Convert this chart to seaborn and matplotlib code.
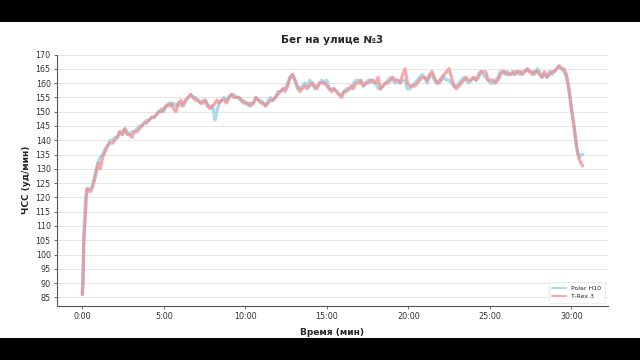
import matplotlib
matplotlib.use("Agg")
import matplotlib.pyplot as plt
import seaborn as sns
import pandas as pd
from matplotlib.ticker import FuncFormatter, MultipleLocator
from matplotlib.patches import Rectangle

minutes = [
    0.0, 0.05, 0.1, 0.18, 0.25, 0.3, 0.5, 0.6, 0.75, 0.9,
    1.0, 1.1, 1.25, 1.4, 1.55, 1.7, 1.85, 2.0, 2.15, 2.3,
    2.45, 2.6, 2.75, 2.9, 3.05, 3.2, 3.35, 3.5, 3.65, 3.8,
    3.95, 4.1, 4.25, 4.4, 4.55, 4.7, 4.85, 5.0, 5.15, 5.3,
    5.45, 5.6, 5.75, 5.9, 6.05, 6.2, 6.35, 6.5, 6.65, 6.8,
    6.95, 7.1, 7.25, 7.4, 7.55, 7.7, 7.85, 8.0, 8.15, 8.25,
    8.4, 8.55, 8.7, 8.85, 9.0, 9.15, 9.3, 9.45, 9.6, 9.75,
    9.9, 10.05, 10.2, 10.35, 10.5, 10.65, 10.8, 10.95, 11.1, 11.25,
    11.4, 11.55, 11.7, 11.85, 12.0, 12.15, 12.3, 12.45, 12.6, 12.75,
    12.9, 13.05, 13.2, 13.35, 13.5, 13.65, 13.8, 13.95, 14.1, 14.25,
    14.4, 14.55, 14.7, 14.85, 15.0, 15.15, 15.3, 15.45, 15.6, 15.75,
    15.9, 16.05, 16.2, 16.35, 16.5, 16.65, 16.8, 16.95, 17.1, 17.25,
    17.4, 17.55, 17.7, 17.85, 18.0, 18.15, 18.3, 18.45, 18.6, 18.75,
    18.9, 19.05, 19.2, 19.35, 19.5, 19.65, 19.8, 19.95, 20.1, 20.25,
    20.4, 20.55, 20.7, 20.85, 21.0, 21.15, 21.3, 21.45, 21.6, 21.75,
    21.9, 22.05, 22.2, 22.35, 22.5, 22.65, 22.8, 22.95, 23.1, 23.25,
    23.4, 23.55, 23.7, 23.85, 24.0, 24.15, 24.3, 24.45, 24.6, 24.75,
    24.9, 25.05, 25.2, 25.35, 25.5, 25.65, 25.8, 25.95, 26.1, 26.25,
    26.4, 26.55, 26.7, 26.85, 27.0, 27.15, 27.3, 27.45, 27.6, 27.75,
    27.9, 28.05, 28.2, 28.35, 28.5, 28.65, 28.8, 28.95, 29.1, 29.25,
    29.4, 29.55, 29.7, 29.85, 30.0, 30.15, 30.3, 30.4, 30.5, 30.6,
    30.7,
]

polar_h10 = [
    86, 95, 107, 118, 122, 123, 123, 124, 127, 131,
    133, 134, 135, 137, 138, 140, 140, 141, 141, 143,
    142, 144, 143, 142, 143, 143, 144, 145, 145, 146,
    147, 147, 148, 148, 149, 150, 151, 150, 152, 153,
    152, 153, 152, 153, 152, 153, 154, 155, 156, 155,
    155, 154, 153, 154, 154, 152, 152, 152, 147, 150,
    153, 154, 155, 154, 155, 156, 156, 155, 155, 154,
    154, 153, 152, 153, 153, 155, 154, 154, 153, 152,
    154, 155, 154, 155, 157, 157, 158, 158, 160, 162,
    163, 161, 158, 158, 159, 160, 159, 161, 160, 158,
    159, 160, 161, 160, 161, 158, 158, 158, 157, 156,
    156, 157, 158, 158, 158, 160, 161, 161, 160, 159,
    160, 161, 161, 160, 160, 158, 158, 159, 160, 161,
    162, 161, 160, 161, 160, 161, 161, 158, 158, 159,
    160, 161, 162, 163, 162, 160, 162, 163, 161, 160,
    161, 161, 162, 161, 161, 160, 159, 159, 160, 161,
    162, 161, 160, 161, 162, 161, 163, 164, 163, 162,
    161, 160, 160, 161, 162, 164, 164, 163, 164, 163,
    163, 164, 164, 163, 164, 164, 165, 164, 164, 163,
    165, 164, 162, 163, 162, 164, 163, 164, 165, 166,
    165, 164, 162, 158, 152, 145, 138, 136, 134, 135,
    135,
]

trex_3 = [
    86, 90, 106, 112, 120, 123, 122, 123, 126, 130,
    132, 130, 134, 136, 138, 139, 139, 140, 141, 143,
    142, 144, 142, 142, 141, 143, 143, 144, 145, 146,
    146, 147, 148, 148, 149, 150, 150, 151, 152, 152,
    153, 151, 150, 153, 154, 152, 154, 155, 156, 155,
    154, 154, 153, 153, 154, 152, 151, 152, 153, 154,
    153, 154, 154, 153, 155, 156, 155, 155, 155, 154,
    153, 153, 153, 152, 153, 155, 154, 153, 153, 152,
    153, 154, 154, 155, 156, 157, 158, 157, 159, 162,
    163, 161, 159, 157, 158, 159, 158, 159, 160, 159,
    158, 160, 160, 160, 159, 158, 157, 158, 157, 156,
    155, 157, 157, 158, 159, 158, 160, 160, 161, 159,
    160, 160, 161, 161, 160, 162, 158, 159, 160, 160,
    161, 162, 161, 161, 160, 163, 165, 160, 159, 159,
    159, 160, 161, 162, 162, 161, 163, 164, 162, 160,
    160, 162, 163, 164, 165, 162, 159, 158, 159, 160,
    161, 162, 161, 161, 162, 161, 162, 164, 164, 164,
    161, 161, 161, 160, 161, 163, 164, 164, 163, 163,
    164, 163, 164, 164, 163, 164, 165, 164, 163, 164,
    164, 163, 162, 164, 162, 163, 164, 164, 165, 166,
    165, 165, 163, 158, 151, 146, 139, 135, 133, 132,
    131,
]

series_names = ["Polar H10", "T-Rex 3"]
series_colors = ["#8ccbe8", "#ef8a8a"]

df = pd.concat([
    pd.DataFrame({"t": minutes, "hr": polar_h10, "device": series_names[0]}),
    pd.DataFrame({"t": minutes, "hr": trex_3, "device": series_names[1]}),
])

sns.set_style("ticks")
plt.rcParams['font.family'] = ['DejaVu Sans']

fig = plt.figure(figsize=(6.4, 3.6), dpi=100, facecolor="black")
fig.patches.append(Rectangle((0, 22 / 360), 1, (338 - 22) / 360, transform=fig.transFigure,
                             facecolor="white", edgecolor="none", zorder=-10))
ax = fig.add_axes([57 / 640, 54 / 360, (608 - 57) / 640, (306 - 54.5) / 360])
ax.set_facecolor("white")

sns.lineplot(data=df, x="t", y="hr", hue="device", palette=series_colors,
             hue_order=series_names, ax=ax, linewidth=2.3, alpha=0.72,
             estimator=None, legend=True)

ax.set_ylim(82, 170)
ax.set_xlim(-1.55, 32.25)
ax.yaxis.set_major_locator(MultipleLocator(5))
ax.xaxis.set_major_locator(MultipleLocator(5))
ax.xaxis.set_major_formatter(FuncFormatter(lambda v, p: f"{int(round(v))}:00"))
ax.yaxis.grid(True, color="#e6e6e6", linewidth=0.7)
ax.set_axisbelow(True)
sns.despine(ax=ax)
for s in ["left", "bottom"]:
    ax.spines[s].set_color("#555555")
    ax.spines[s].set_linewidth(0.8)
ax.tick_params(axis="both", labelsize=5.8, length=2.5, width=0.6, color="#555555",
               labelcolor="#333333", pad=2)

ax.set_title("Бег на улице №3", fontsize=7.5, fontweight="bold", pad=8)
ax.set_xlabel("Время (мин)", fontsize=6.5, fontweight="bold", labelpad=5)
ax.set_ylabel("ЧСС (уд/мин)", fontsize=6.5, fontweight="bold", labelpad=3)

leg = ax.legend(loc="lower right", fontsize=4.5, frameon=True, handlelength=2.2,
                borderpad=0.6, labelspacing=0.4)
leg.get_frame().set_edgecolor("#dddddd")
leg.get_frame().set_linewidth(0.5)
for line in leg.get_lines():
    line.set_linewidth(1.5)

fig.savefig("out.png", dpi=100, facecolor=fig.get_facecolor())
